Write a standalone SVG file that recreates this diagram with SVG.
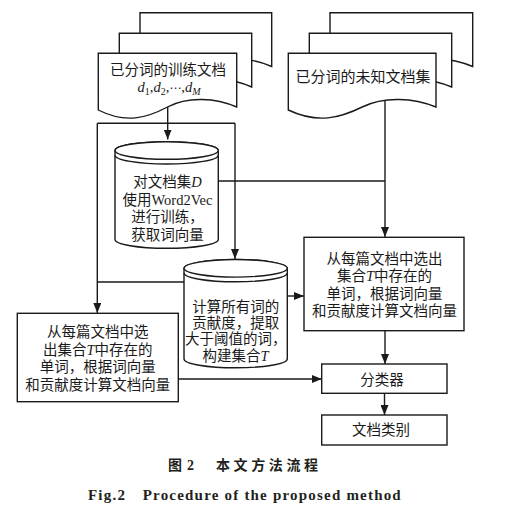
<svg xmlns="http://www.w3.org/2000/svg" width="507" height="530" viewBox="0 0 507 530">
<defs>
<style>
.s{fill:#fff;stroke:#1a1a1a;stroke-width:1.4}
.l{fill:none;stroke:#1a1a1a;stroke-width:1.4}
.t{font-family:"Liberation Serif","Noto Sans CJK SC",serif;font-size:14.5px;fill:#1a1a1a;text-anchor:middle}
.cap{font-family:"Liberation Serif","Noto Sans CJK SC",serif;fill:#231f20;font-weight:bold}
</style>
<marker id="ar" markerUnits="userSpaceOnUse" markerWidth="10" markerHeight="8" refX="10" refY="4" orient="auto">
<path d="M0,0 L10,4 L0,8 Z" fill="#1a1a1a"/>
</marker>
</defs>
<rect width="507" height="530" fill="#fff"/>
<g id="connectors">
<path class="l" d="M167.7,107 V139.5" marker-end="url(#ar)"/>
<path class="l" d="M97.3,123.3 H235"/>
<path class="l" d="M97.3,123.3 V313" marker-end="url(#ar)"/>
<path class="l" d="M235,123.3 V259" marker-end="url(#ar)"/>
<path class="l" d="M184,282 H97.3"/>
<path class="l" d="M218.3,181 H385"/>
<path class="l" d="M385,100.5 V237" marker-end="url(#ar)"/>
<path class="l" d="M287.3,296 H304" marker-end="url(#ar)"/>
<path class="l" d="M178.3,379 H321.7" marker-end="url(#ar)"/>
<path class="l" d="M385,330.7 V364" marker-end="url(#ar)"/>
<path class="l" d="M384.5,393.3 V415" marker-end="url(#ar)"/>
</g>
<g id="train-docs">
<path class="s" d="M140,12.7 H271.7 V66.5 C252,57.5 225.6,55.5 205.9,66.5 C186.1,77.5 166.3,83.5 140,69.5 Z"/>
<path class="s" d="M119.3,33.3 H251.7 V87 C231.8,78 205.3,76 185.5,87 C165.6,98 145.8,104 119.3,90 Z"/>
<path class="s" d="M98.3,53.3 H236.7 V107 C215.9,98 188.3,96 167.5,107 C146.7,118 126,124 98.3,110 Z"/>
<text class="t" x="168" y="75">已分词的训练文档</text>
<text class="t" x="169" y="92"><tspan font-style="italic">d</tspan><tspan dy="3" font-size="10">1</tspan><tspan dy="-3">,</tspan><tspan font-style="italic">d</tspan><tspan dy="3" font-size="10">2</tspan><tspan dy="-3">,</tspan><tspan style="font-family:'DejaVu Serif','DejaVu Sans',serif;font-size:12px">⋯</tspan><tspan>,</tspan><tspan font-style="italic">d</tspan><tspan dy="3" font-size="10" font-style="italic">M</tspan></text>
</g>
<g id="unknown-docs">
<path class="s" d="M330,12.7 H472.7 V66.5 C451.3,57.5 422.8,55.5 401.4,66.5 C380,77.5 358.5,83.5 330,69.5 Z"/>
<path class="s" d="M309.3,33.3 H451.7 V87 C430.3,78 401.8,76 380.5,87 C359.1,98 337.8,104 309.3,90 Z"/>
<path class="s" d="M288.3,53.3 H436 V107 C413.8,98 384.3,96 362.2,107 C340,118 317.8,124 288.3,110 Z"/>
<text class="t" x="363" y="82" style="font-size:15px">已分词的未知文档集</text>
</g>
<g id="cyl-train">
<path class="s" d="M115,150.5 A51.65,8.8 0 0 1 218.3,150.5 V239.5 A51.65,8.8 0 0 1 115,239.5 Z"/>
<ellipse class="s" cx="166.65" cy="150.5" rx="51.65" ry="8.8"/>
<path class="l" d="M115,155.2 A51.65,8.8 0 0 0 218.3,155.2"/>
<text class="t" x="167.5" y="186.5">对文档集<tspan font-style="italic">D</tspan></text>
<text class="t" x="167.5" y="204.5">使用Word2Vec</text>
<text class="t" x="167.5" y="222">进行训练，</text>
<text class="t" x="167.5" y="240">获取词向量</text>
</g>
<g id="cyl-set">
<path class="s" d="M184,268.3 A51.65,8.8 0 0 1 287.3,268.3 V359 A51.65,8.8 0 0 1 184,359 Z"/>
<ellipse class="s" cx="235.65" cy="268.3" rx="51.65" ry="8.8"/>
<path class="l" d="M184,273 A51.65,8.8 0 0 0 287.3,273"/>
<text class="t" x="235.65" y="312">计算所有词的</text>
<text class="t" x="235.65" y="328">贡献度，提取</text>
<text class="t" x="235.65" y="344">大于阈值的词，</text>
<text class="t" x="235.65" y="361">构建集合<tspan font-style="italic">T</tspan></text>
</g>
<g id="box-right">
<rect class="s" x="304" y="237.3" width="160" height="93.4"/>
<text class="t" x="384.5" y="264">从每篇文档中选出</text>
<text class="t" x="384.5" y="281.3">集合<tspan font-style="italic">T</tspan>中存在的</text>
<text class="t" x="384.5" y="298.8">单词，根据词向量</text>
<text class="t" x="384.5" y="316.4">和贡献度计算文档向量</text>
</g>
<g id="box-left">
<rect class="s" x="17.3" y="313.3" width="161" height="88.4"/>
<text class="t" x="97.8" y="336.7">从每篇文档中选</text>
<text class="t" x="97.8" y="355">出集合<tspan font-style="italic">T</tspan>中存在的</text>
<text class="t" x="97.8" y="372.3">单词，根据词向量</text>
<text class="t" x="97.8" y="390">和贡献度计算文档向量</text>
</g>
<g id="classifier">
<rect class="s" x="321.7" y="364" width="125.3" height="29.3"/>
<text class="t" x="382" y="384.5">分类器</text>
</g>
<g id="category">
<rect class="s" x="321.7" y="415" width="125.3" height="30"/>
<text class="t" x="381" y="435">文档类别</text>
</g>
<g id="caption">
<text class="cap" y="470" style="font-size:14px"><tspan x="168">图</tspan><tspan x="187">2</tspan><tspan x="216" style="letter-spacing:3.6px">本文方法流程</tspan></text>
<text class="cap" y="500" style="font-size:15px;letter-spacing:1.2px"><tspan x="88">Fig.2</tspan><tspan x="142.7">Procedure of the proposed method</tspan></text>
</g>
</svg>
